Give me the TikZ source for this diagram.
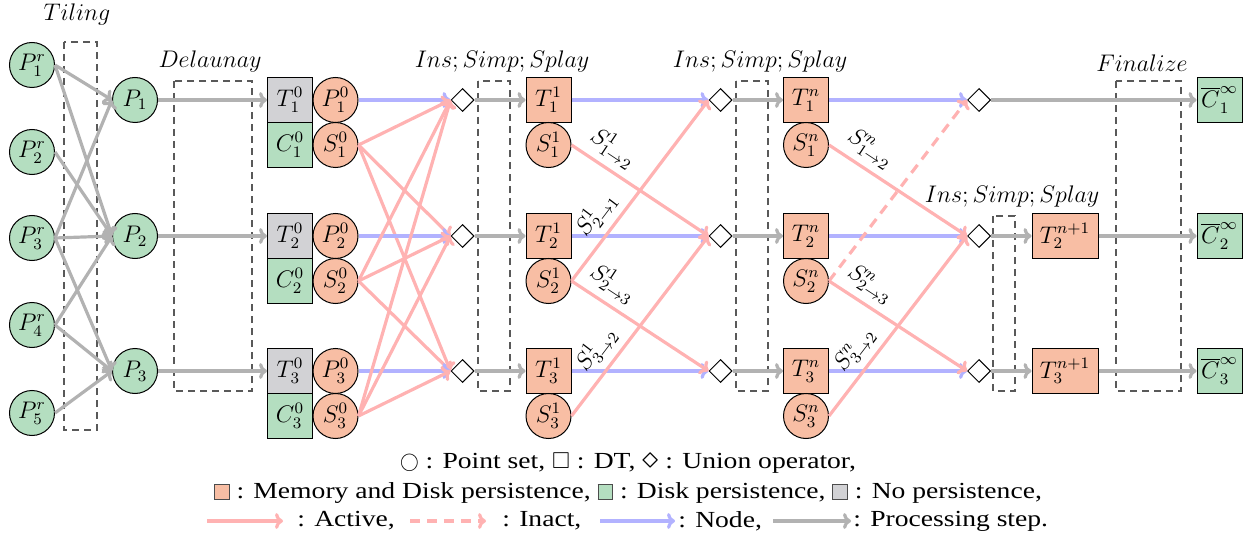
\documentclass[tikz,border=0pt]{standalone}
\usepackage{amssymb}
\usepackage{fontspec}
\setmainfont{Liberation Serif}
\newfontfamily\legfont[FakeStretch=1.2]{Liberation Serif}
\usetikzlibrary{shapes.geometric,arrows.meta}
\definecolor{mdc}{RGB}{248,190,164}
\definecolor{dkc}{RGB}{180,222,192}
\definecolor{npc}{RGB}{210,210,213}
\definecolor{actc}{RGB}{255,178,178}
\definecolor{nodc}{RGB}{178,178,255}
\definecolor{prc}{RGB}{178,178,178}
\tikzset{
  pt/.style={circle,draw=black,line width=0.5pt,minimum size=22.5pt,inner sep=0pt},
  sq/.style={rectangle,draw=black,line width=0.5pt,minimum size=22.5pt,inner sep=0pt},
  wsq/.style={sq,minimum width=33pt},
  un/.style={diamond,draw=black,line width=0.5pt,minimum width=11.5pt,minimum height=11.5pt,inner sep=0pt,fill=white},
  tipA/.style={-{To[length=4pt,width=8pt]}},
  proc/.style={draw=prc,line width=1.6pt,tipA},
  act/.style={draw=actc,line width=1.6pt,tipA},
  inact/.style={act,dash pattern=on 5pt off 3.5pt},
  nodl/.style={draw=nodc,line width=1.6pt,tipA},
  dbox/.style={draw=black!65,line width=0.6pt,dash pattern=on 3.5pt off 2.5pt},
  elab/.style={sloped,above=2.5pt,inner sep=1pt},
  leg/.style={font=\legfont\fontsize{11.5}{13}\selectfont,inner sep=0pt},
}
\begin{document}
\begin{tikzpicture}[x=0.5pt,y=-0.5pt,font=\fontsize{11.5}{13}\selectfont]
\useasboundingbox (0,0) rectangle (1248,540);

% dashed process boxes
\draw[dbox] (64,42) rectangle (97,430);
\draw[dbox] (174,81) rectangle (252,391);
\draw[dbox] (478,81) rectangle (510,391);
\draw[dbox] (736,81) rectangle (768,391);
\draw[dbox] (993,216) rectangle (1015,391);
\draw[dbox] (1116,81) rectangle (1181,391);

% step labels
\node (lTil) at (77,15) {$Tiling$};
\node (lDel) at (210,62) {$Delaunay$};
\node (lIns1) at (502,62) {$Ins;Simp;Splay$};
\node (lIns2) at (760,62) {$Ins;Simp;Splay$};
\node (lIns3) at (1012,197) {$Ins;Simp;Splay$};
\node (lFin) at (1142,63) {$Finalize$};

% raw point sets
\node[pt,fill=dkc] (Pr1) at (32,65) {$P_1^r$};
\node[pt,fill=dkc] (Pr2) at (32,152) {$P_2^r$};
\node[pt,fill=dkc] (Pr3) at (32,238) {$P_3^r$};
\node[pt,fill=dkc] (Pr4) at (32,325) {$P_4^r$};
\node[pt,fill=dkc] (Pr5) at (32,413) {$P_5^r$};

\foreach \i/\y in {1/100,2/236,3/371}{
  \node[pt,fill=dkc] (P\i) at (135,\y) {$P_\i$};
  \node[sq,fill=npc] (T0\i) at (290,\y) {$T_\i^0$};
  \node[sq,fill=dkc] (C0\i) at (290,{\y+45}) {$C_\i^0$};
  \node[pt,fill=mdc] (P0\i) at (335.5,\y) {$P_\i^0$};
  \node[pt,fill=mdc] (S0\i) at (335.5,{\y+45}) {$S_\i^0$};
  \node[un] (Da\i) at (462.5,\y) {};
  \node[sq,fill=mdc] (T1\i) at (548.5,\y) {$T_\i^1$};
  \node[pt,fill=mdc] (S1\i) at (548.5,{\y+45}) {$S_\i^1$};
  \node[un] (Db\i) at (720.5,\y) {};
  \node[sq,fill=mdc] (Tn\i) at (806,\y) {$T_\i^n$};
  \node[pt,fill=mdc] (Sn\i) at (806,{\y+45}) {$S_\i^n$};
  \node[un] (Dc\i) at (979,\y) {};
  \node[sq,fill=dkc] (F\i) at (1219.5,\y) {$\overline{C}_\i^{\infty}$};
}
\node[wsq,fill=mdc] (Tm2) at (1065,236) {$T_2^{n+1}$};
\node[wsq,fill=mdc] (Tm3) at (1065,371) {$T_3^{n+1}$};

% tiling
\draw[proc] (Pr1.east) -- (P1.west);
\draw[proc] (Pr1.east) -- (P2.west);
\draw[proc] (Pr2.east) -- (P2.west);
\draw[proc] (Pr3.east) -- (P1.west);
\draw[proc] (Pr3.east) -- (P2.west);
\draw[proc] (Pr3.east) -- (P3.west);
\draw[proc] (Pr4.east) -- (P2.west);
\draw[proc] (Pr4.east) -- (P3.west);
\draw[proc] (Pr5.east) -- (P3.west);

\foreach \i in {1,2,3}{
  \draw[proc] (P\i.east) -- (T0\i.west);
  \draw[nodl] (P0\i.east) -- (Da\i.west);
  \draw[proc] (Da\i.east) -- (T1\i.west);
  \draw[nodl] (T1\i.east) -- (Db\i.west);
  \draw[proc] (Db\i.east) -- (Tn\i.west);
  \draw[nodl] (Tn\i.east) -- (Dc\i.west);
  \foreach \j in {1,2,3}{
    \draw[act] (S0\i.east) -- (Da\j.west);
  }
}
% exchange step 1
\draw[act] (S11.east) -- node[elab,pos=0.22] {$S^1_{1\to 2}$} (Db2.west);
\draw[act] (S12.east) -- node[elab,pos=0.3] {$S^1_{2\to 1}$} (Db1.west);
\draw[act] (S12.east) -- node[elab,pos=0.22] {$S^1_{2\to 3}$} (Db3.west);
\draw[act] (S13.east) -- node[elab,pos=0.3] {$S^1_{3\to 2}$} (Db2.west);
% exchange step n
\draw[act] (Sn1.east) -- node[elab,pos=0.22] {$S^n_{1\to 2}$} (Dc2.west);
\draw[inact] (Sn2.east) -- (Dc1.west);
\draw[act] (Sn2.east) -- node[elab,pos=0.22] {$S^n_{2\to 3}$} (Dc3.west);
\draw[act] (Sn3.east) -- node[elab,pos=0.3] {$S^n_{3\to 2}$} (Dc2.west);

% finalize
\draw[proc] (Dc1.east) -- (F1.west);
\draw[proc] (Dc2.east) -- (Tm2.west);
\draw[proc] (Dc3.east) -- (Tm3.west);
\draw[proc] (Tm2.east) -- (F2.west);
\draw[proc] (Tm3.east) -- (F3.west);

% legend
\setlength{\fboxsep}{0pt}
\node[leg] (lg1) at (628,463) {\raisebox{0.2pt}{\scalebox{0.78}{$\bigcirc$}} : Point set, $\square$ : DT, \scalebox{1.35}{$\diamond$} : Union operator,};
\node[leg] (lg2) at (628,493) {\fcolorbox{black!70}{mdc}{\rule{0pt}{7pt}\rule{7pt}{0pt}} : Memory and Disk persistence, \fcolorbox{black!70}{dkc}{\rule{0pt}{7pt}\rule{7pt}{0pt}} : Disk persistence, \fcolorbox{black!70}{npc}{\rule{0pt}{7pt}\rule{7pt}{0pt}} : No persistence,};
\coordinate (a1s) at (207,521); \coordinate (a1e) at (283,521);
\coordinate (a2s) at (410,521); \coordinate (a2e) at (486,521);
\coordinate (a3s) at (600,521); \coordinate (a3e) at (675,521);
\coordinate (a4s) at (773,521); \coordinate (a4e) at (851,521);
\draw[act] (a1s) -- (a1e);
\draw[inact] (a2s) -- (a2e);
\draw[nodl] (a3s) -- (a3e);
\draw[proc] (a4s) -- (a4e);
\node[leg,anchor=west] (lt1) at (297,521) {: Active,};
\node[leg,anchor=west] (lt2) at (502,521) {: Inact,};
\node[leg,anchor=west] (lt3) at (678,521) {: Node,};
\node[leg,anchor=west] (lt4) at (853,521) {: Processing step.};
\end{tikzpicture}
\end{document}
